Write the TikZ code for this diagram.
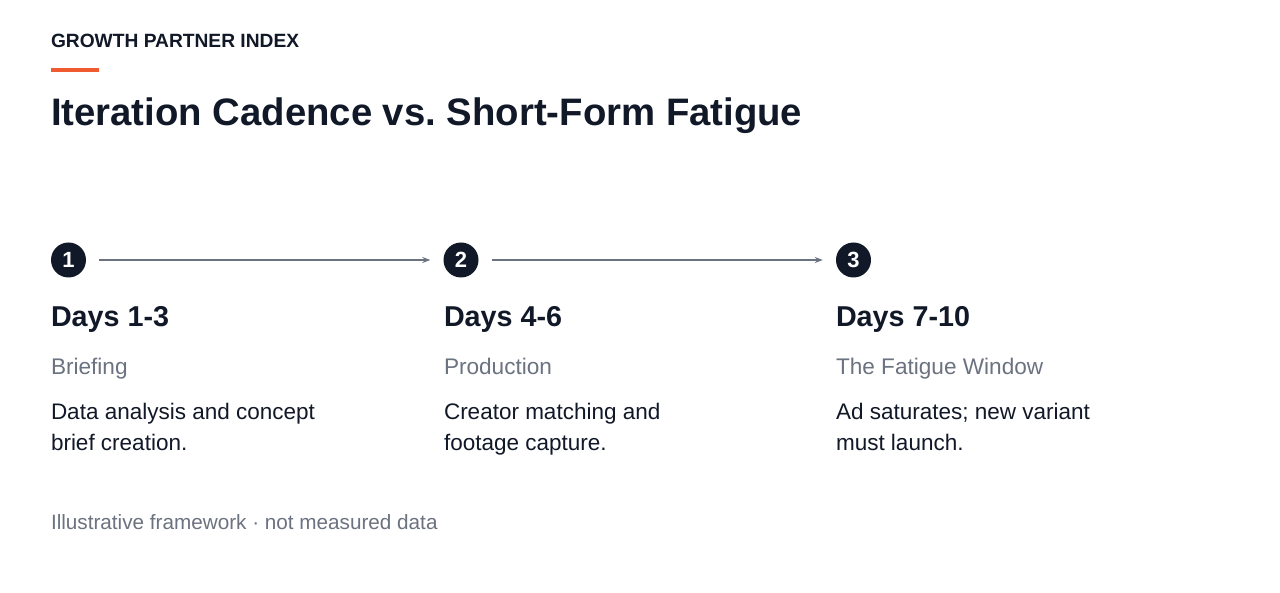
\documentclass[tikz,border=0pt]{standalone}
\usepackage{fontspec}
\setmainfont{Liberation Sans}
\usetikzlibrary{arrows.meta}
\frenchspacing
\definecolor{ink}{HTML}{111827}
\definecolor{mute}{HTML}{6B7280}
\definecolor{accent}{HTML}{F05A30}
\tikzset{
  txt/.style={anchor=base west, inner sep=0pt, outer sep=0pt},
  num/.style={circle, fill=ink, text=white, minimum size=35pt, inner sep=0pt, font=\fontsize{22}{22}\selectfont\bfseries},
  flow/.style={draw=mute, line width=2pt, -{Stealth[length=8pt,width=6pt]}, shorten <=13pt, shorten >=13pt},
  dayhead/.style={txt, text=ink, font=\fontsize{28.7}{28.7}\selectfont\bfseries},
  phase/.style={txt, text=mute, font=\fontsize{22.6}{22.6}\selectfont},
  body/.style={txt, text=ink, font=\fontsize{22.5}{22.5}\selectfont},
}
\begin{document}
\begin{tikzpicture}[x=1pt,y=-1pt]
\useasboundingbox[fill=white] (0,0) rectangle (1280,593);
\node[txt, text=ink, font=\fontsize{19.2}{19.2}\selectfont\bfseries] (kicker) at (51,48) {GROWTH PARTNER INDEX};
\fill[accent] (51,68.5) rectangle (99,72.5);
\node[txt, text=ink, font=\fontsize{38.3}{38.3}\selectfont\bfseries] (title) at (51,126) {Iteration Cadence vs. Short-Form Fatigue};

\node[num] (n1) at (68.5,260) {1};
\node[num] (n2) at (461,260) {2};
\node[num] (n3) at (853.5,260) {3};
\draw[flow] (n1) -- (n2);
\draw[flow] (n2) -- (n3);

\node[dayhead] (d1) at (51,327) {Days 1-3};
\node[dayhead] (d2) at (444,327) {Days 4-6};
\node[dayhead] (d3) at (836,327) {Days 7-10};

\node[phase] (p1) at (51,375) {Briefing};
\node[phase] (p2) at (444,375) {Production};
\node[phase] (p3) at (836,375) {The Fatigue Window};

\node[body] (b1a) at (51,420) {Data analysis and concept};
\node[body] (b1b) at (51,450) {brief creation.};
\node[body] (b2a) at (444,420) {Creator matching and};
\node[body] (b2b) at (444,450) {footage capture.};
\node[body] (b3a) at (836,420) {Ad saturates; new variant};
\node[body] (b3b) at (836,450) {must launch.};

\node[txt, text=mute, font=\fontsize{20.7}{20.7}\selectfont] (foot) at (51,529) {Illustrative framework · not measured data};
\end{tikzpicture}
\end{document}
